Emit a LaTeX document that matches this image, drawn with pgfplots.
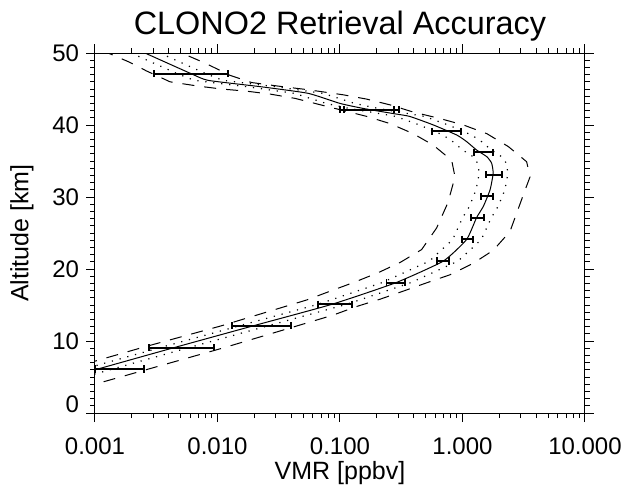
\documentclass[border=0pt]{standalone}
\usepackage{fontspec}
\setmainfont{Liberation Sans}
\usepackage{pgfplots}
\usepackage{pgfplotstable}
\pgfplotsset{compat=1.18}

% solid: retrieved profile (alt, vmr)
\pgfplotstableread{
a v
4.8 0.00056
6.0 0.001
9.07 0.0044
12.1 0.0195
15.1 0.086
18.1 0.286
21.1 0.697
24.1 1.08
27.1 1.30
28.7 1.48
31.0 1.68
33.3 1.78
34.7 1.73
35.6 1.58
36.5 1.31
37.7 1.08
38.6 0.90
40.0 0.58
41.2 0.37
41.6 0.27
42.3 0.155
43.0 0.10
44.4 0.055
45.3 0.023
46.2 0.0084
47.1 0.00615
50.0 0.00256
51.0 0.0019
}\solid

\pgfplotstableread{
a v
4.8 0.000431
6.0 0.00077
9.07 0.00339
12.1 0.0150
15.1 0.0662
18.1 0.220
21.1 0.537
24.1 0.832
27.1 1.00
28.7 1.14
31.0 1.29
33.3 1.37
34.7 1.33
35.6 1.22
36.5 1.01
37.7 0.832
38.6 0.693
40.0 0.447
41.2 0.285
41.6 0.208
42.3 0.119
43.0 0.077
44.4 0.0424
45.3 0.0177
46.2 0.00647
47.1 0.00474
50.0 0.00197
51.0 0.00146
}\dotleft

\pgfplotstableread{
a v
4.8 0.00074
6.0 0.00132
9.07 0.00581
12.1 0.0257
15.1 0.1135
18.1 0.378
21.1 0.920
24.1 1.426
27.1 1.716
28.7 1.954
31.0 2.22
33.3 2.35
34.7 2.28
35.6 2.09
36.5 1.73
37.7 1.43
38.6 1.19
40.0 0.766
41.2 0.488
41.6 0.356
42.3 0.205
43.0 0.132
44.4 0.0726
45.3 0.0304
46.2 0.0111
47.1 0.00812
50.0 0.00338
51.0 0.00251
}\dotright

\pgfplotstableread{
a v
6.0 0.00056
7.2 0.001
9.07 0.0024
12.1 0.0107
15.7 0.0535
17.0 0.0855
18.2 0.1326
19.5 0.2056
20.9 0.309
22.7 0.464
25.7 0.615
29.2 0.76
32.8 0.869
35.1 0.816
37.2 0.578
38.8 0.396
40.2 0.256
41.2 0.165
43.0 0.0625
43.7 0.043
44.3 0.0268
44.7 0.0173
45.0 0.0108
45.4 0.00697
46.0 0.0041
47.5 0.00264
48.8 0.00187
50.0 0.00128
51.0 0.001
}\dashleft

\pgfplotstableread{
a v
3.5 0.00079
4.0 0.001
6.0 0.0026
9.07 0.0113
12.5 0.0535
13.6 0.088
14.8 0.137
15.8 0.212
16.85 0.319
18.0 0.494
19.2 0.791
20.8 1.225
22.6 1.784
25.2 2.44
28.7 2.90
31.0 3.25
32.8 3.56
34.9 3.34
37.0 2.37
38.8 1.58
40.0 1.02
40.9 0.655
41.8 0.396
42.8 0.256
43.6 0.165
44.2 0.106
44.9 0.055
45.4 0.0314
45.9 0.019
46.9 0.01265
48.5 0.00816
49.9 0.00526
51.0 0.0038
}\dashright

\newcommand{\ebar}[3]{\addplot[line width=1pt, mark=|, mark size=1.8pt, mark options={line width=0.9pt, solid}] coordinates {(#2,#1) (#3,#1)};}

\begin{document}
\begin{tikzpicture}
\useasboundingbox (-47.5pt,-35.5pt) rectangle (266.5pt,206.5pt);
\begin{axis}[
  at={(0,0)}, anchor=south west,
  scale only axis, width=245pt, height=180pt,
  xmode=log, xmin=0.001, xmax=10, ymin=0, ymax=50,
  xtick={0.001,0.01,0.1,1,10},
  xticklabels={0.001,0.010,0.100,1.000,10.000},
  minor xtick={0.002,0.003,0.004,0.005,0.006,0.007,0.008,0.009,
               0.02,0.03,0.04,0.05,0.06,0.07,0.08,0.09,
               0.2,0.3,0.4,0.5,0.6,0.7,0.8,0.9,
               2,3,4,5,6,7,8,9},
  ytick={0,10,20,30,40,50},
  yticklabels={\raisebox{9pt}{0},\raisebox{-1pt}{10},\raisebox{-1pt}{20},\raisebox{-2.5pt}{30},\raisebox{-4.5pt}{40},\raisebox{-6pt}{50}},
  minor y tick num=9,
  tick align=outside,
  major tick length=4.5pt, minor tick length=2.5pt,
  tick style={black, line width=0.5pt},
  axis line style={line width=0.5pt},
  every tick label/.append style={font=\fontsize{12}{14}\selectfont},
  xticklabel style={yshift=-4.5pt},
  title={CLONO2 Retrieval Accuracy},
  title style={at={(0.5,1)}, anchor=base, yshift=3.5pt, font=\fontsize{16.2}{18}\selectfont},
  xlabel={VMR [ppbv]},
  xlabel style={at={(0.5,0)}, anchor=base, yshift=-33pt, font=\fontsize{12.5}{14}\selectfont},
  ylabel={Altitude [km]},
  ylabel style={at={(0,0.5)}, anchor=center, yshift=36.5pt, font=\fontsize{12.5}{14}\selectfont},
  clip=true,
]
\addplot[black, line width=0.5pt, dash pattern=on 6pt off 5pt] table[x=v, y=a] {\dashleft};
\addplot[black, line width=0.5pt, dash pattern=on 6pt off 5pt] table[x=v, y=a] {\dashright};
\addplot[black, line width=0.6pt, dash pattern=on 0.6pt off 3.4pt] table[x=v, y=a] {\dotleft};
\addplot[black, line width=0.6pt, dash pattern=on 0.6pt off 3.4pt] table[x=v, y=a] {\dotright};
\addplot[black, line width=0.5pt, smooth, tension=0.3] table[x=v, y=a] {\solid};
\ebar{6.1}{0.001}{0.0025}
\ebar{9.07}{0.00278}{0.00936}
\ebar{12.1}{0.0131}{0.0398}
\ebar{15.1}{0.0658}{0.126}
\ebar{18.1}{0.240}{0.339}
\ebar{21.1}{0.615}{0.780}
\ebar{24.1}{0.985}{1.225}
\ebar{27.1}{1.166}{1.489}
\ebar{30.1}{1.416}{1.784}
\ebar{33.1}{1.556}{2.089}
\ebar{36.2}{1.241}{1.784}
\ebar{39.1}{0.567}{0.978}
\ebar{42.1}{0.100}{0.276}
\ebar{42.1}{0.108}{0.301}
\ebar{47.1}{0.00305}{0.01225}
\end{axis}
\end{tikzpicture}
\end{document}
